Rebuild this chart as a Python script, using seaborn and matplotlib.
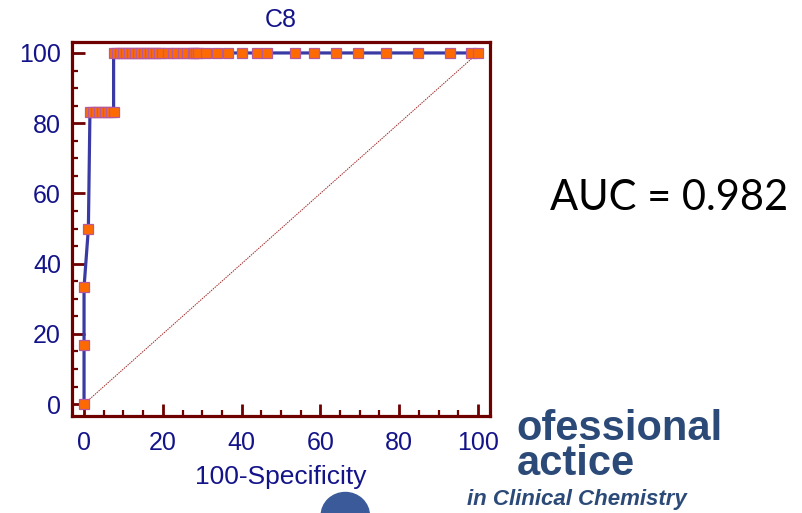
"""ROC curve for C8 (100-Specificity vs Sensitivity) with AUC note."""
import matplotlib
matplotlib.use('Agg')
import matplotlib.pyplot as plt
from matplotlib.patches import Ellipse
from matplotlib.ticker import MultipleLocator
import pandas as pd
import seaborn as sns

# ROC points
fpr = [0, 0, 0, 1.1,
       1.5, 2.3, 3.0, 3.8, 4.5, 5.3, 6.0, 6.8, 7.5,
       7.5, 8.3, 9.1, 9.8, 10.6, 11.4, 12.1, 12.9, 13.6, 14.4, 15.2,
       16.0, 16.7, 17.5, 18.3, 19.0, 19.8, 21.2, 22.7, 23.5, 25.0, 26.1,
       27.6, 28.0, 28.4, 28.9, 31.0, 33.8, 36.5, 40.1, 43.9, 46.4, 53.6,
       58.4, 64.0, 69.5, 76.6, 84.8, 92.9, 98.2, 100]
tpr = [0, 16.7, 33.3, 50.0] + [83.3] * 9 + [100.0] * 41
diag = [0, 100]
xticks = [0, 20, 40, 60, 80, 100]
yticks = [0, 20, 40, 60, 80, 100]
title = 'C8'
xlabel = '100-Specificity'
auc_text = 'AUC = 0.982'
logo_lines = ['ofessional', 'actice']
logo_tag = 'in Clinical Chemistry'

DARK_RED = '#6e0000'
NAVY = '#14148a'

sns.set_style('white')
plt.rcParams['font.family'] = ['Liberation Sans', 'DejaVu Sans']

df = pd.DataFrame({'fpr': fpr, 'tpr': tpr})

fig = plt.figure(figsize=(8.03, 5.13), dpi=100)
ax = fig.add_axes([0.0897, 0.189, 0.5205, 0.729])

ax.plot(diag, diag, color='#a02828', lw=0.7, ls=(0, (1.5, 1)))
sns.lineplot(data=df, x='fpr', y='tpr', estimator=None, sort=False,
             color='#3a3aa4', lw=2.3, marker='s', markersize=7,
             markerfacecolor='#ff6a00', markeredgecolor='#b85a9a',
             markeredgewidth=0.9, ax=ax, zorder=3)

ax.set_xlim(-3.05, 103.05)
ax.set_ylim(-3.4, 103.1)
ax.set_xticks(xticks)
ax.set_yticks(yticks)
ax.xaxis.set_minor_locator(MultipleLocator(5))
ax.yaxis.set_minor_locator(MultipleLocator(5))
ax.tick_params(which='major', direction='in', length=9, width=2,
               color=DARK_RED, labelcolor=NAVY, labelsize=18,
               left=True, bottom=True, top=False, right=False)
ax.tick_params(axis='x', which='major', pad=11)
ax.tick_params(axis='y', which='major', pad=8)
ax.tick_params(which='minor', direction='in', length=4.5, width=1.6,
               color=DARK_RED, left=True, bottom=True)
for spine in ax.spines.values():
    spine.set_color(DARK_RED)
    spine.set_linewidth(2.3)

ax.set_title(title, color=NAVY, fontsize=18, pad=11)
ax.set_xlabel(xlabel, color=NAVY, fontsize=19, labelpad=7)
ax.set_ylabel('')

fig.text(0.685, 0.615, auc_text, fontsize=30, family='Lato',
         color='black', va='center', ha='left')

# slide logo fragment under the chart
logo = '#2c4a78'
fig.text(0.643, 0.074, '\n'.join(logo_lines), fontsize=30,
         fontweight='bold', color=logo, ha='left', va='baseline',
         linespacing=0.84)
fig.text(0.582, 0.016, logo_tag, fontsize=16,
         fontweight='bold', style='italic', color=logo, ha='left',
         va='baseline')
fig.patches.append(Ellipse((0.43, -0.005), 0.06, 0.09, color='#3a5a9a',
                           transform=fig.transFigure, figure=fig,
                           zorder=-1))

fig.savefig('out.png', dpi=100)
